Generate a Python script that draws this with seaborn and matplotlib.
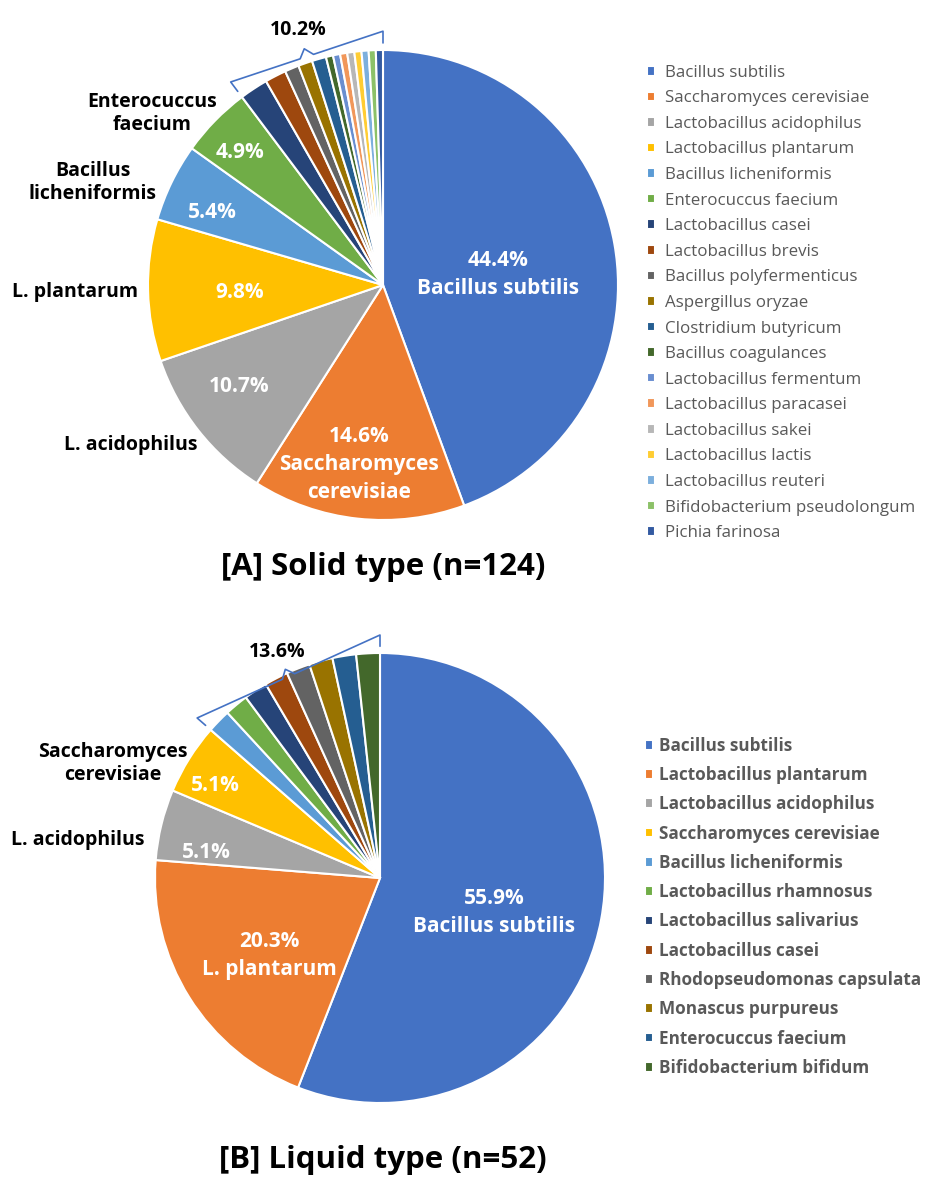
import numpy as np
import seaborn as sns
import matplotlib.pyplot as plt

sns.set_theme(style="white")
plt.rcParams['font.family'] = ['Open Sans', 'DejaVu Sans']
plt.rcParams['text.color'] = 'black'

# [A] Solid type
solid_species = ["Bacillus subtilis", "Saccharomyces cerevisiae", "Lactobacillus acidophilus",
                 "Lactobacillus plantarum", "Bacillus licheniformis", "Enterocuccus faecium",
                 "Lactobacillus casei", "Lactobacillus brevis", "Bacillus polyfermenticus",
                 "Aspergillus oryzae", "Clostridium butyricum", "Bacillus coagulances",
                 "Lactobacillus fermentum", "Lactobacillus paracasei", "Lactobacillus sakei",
                 "Lactobacillus lactis", "Lactobacillus reuteri", "Bifidobacterium pseudolongum",
                 "Pichia farinosa"]
solid_counts = [91, 30, 22, 20, 11, 10, 4, 3, 2, 2, 2, 1, 1, 1, 1, 1, 1, 1, 1]
solid_short = ["Bacillus subtilis", "Saccharomyces\ncerevisiae", "L. acidophilus",
               "L. plantarum", "Bacillus\nlicheniformis", "Enterocuccus\nfaecium"]

# [B] Liquid type
liquid_species = ["Bacillus subtilis", "Lactobacillus plantarum", "Lactobacillus acidophilus",
                  "Saccharomyces cerevisiae", "Bacillus licheniformis", "Lactobacillus rhamnosus",
                  "Lactobacillus salivarius", "Lactobacillus casei", "Rhodopseudomonas capsulata",
                  "Monascus purpureus", "Enterocuccus faecium", "Bifidobacterium bifidum"]
liquid_counts = [33, 12, 3, 3, 1, 1, 1, 1, 1, 1, 1, 1]
liquid_short = ["Bacillus subtilis", "L. plantarum", "L. acidophilus", "Saccharomyces\ncerevisiae"]

office = ["#4472C4", "#ED7D31", "#A5A5A5", "#FFC000", "#5B9BD5", "#70AD47",
          "#264478", "#9E480E", "#636363", "#997300", "#255E91", "#43682B",
          "#698ED0", "#F1975A", "#B7B7B7", "#FFCD33", "#7CAFDD", "#8CC168", "#335AA1"]


def polar(r, deg):
    a = np.deg2rad(deg)
    return r * np.cos(a), r * np.sin(a)


def draw_pie(ax, counts, short, inside, outside, n_named):
    wedges, _ = ax.pie(counts, colors=office[:len(counts)], startangle=90, counterclock=False,
                       radius=1, wedgeprops=dict(edgecolor="white", linewidth=1.5))
    ax.set_xlim(-1, 1)
    ax.set_ylim(-1, 1)
    ax.set_aspect("equal")
    ax.axis("off")
    total = sum(counts)
    mids = [(w.theta1 + w.theta2) / 2 for w in wedges]

    # labels inside the slices
    for i, (r, off, with_name) in inside.items():
        pct = f"{counts[i] / total * 100:.1f}%"
        txt = pct + ("\n" + short[i] if with_name else "")
        x, y = polar(r, mids[i] + off)
        ax.text(x, y, txt, color="white", fontsize=15, fontweight="bold",
                ha="center", va="center", linespacing=1.45)
    # names outside the slices
    for i, (r, off) in outside.items():
        x, y = polar(r, mids[i] + off)
        ax.text(x, y, short[i], color="black", fontsize=14, fontweight="bold",
                ha="center", va="center", linespacing=1.2)

    # bracket over the small slices
    a1 = wedges[n_named].theta2
    a2 = wedges[-1].theta1
    e1 = np.array(polar(1.08, a1))
    e2 = np.array(polar(1.08, a2))
    t1 = np.array(polar(1.03, a1))
    t2 = np.array(polar(1.03, a2))
    m = (e1 + e2) / 2
    n = m / np.linalg.norm(m)
    d = (e2 - e1) / np.linalg.norm(e2 - e1)
    pts = np.array([t1, e1, m - 0.03 * d, m + 0.035 * n, m + 0.03 * d, e2, t2])
    ax.plot(pts[:, 0], pts[:, 1], color="#4472C4", lw=1.2, clip_on=False)
    rest = sum(counts[n_named:]) / total * 100
    tx, ty = m + 0.12 * n
    ax.text(tx, ty, f"{rest:.1f}%", fontsize=14, fontweight="bold", color="black",
            ha="center", va="center")
    return wedges


W, H = 937, 1194
fig = plt.figure(figsize=(W / 100, H / 100), dpi=100)

ax_a = fig.add_axes([(383 - 235) / W, (H - 285 - 235) / H, 470 / W, 470 / H])
wa = draw_pie(ax_a, solid_counts, solid_short,
              inside={0: (0.49, -5, True), 1: (0.77, -1.5, True), 2: (0.75, -3, False),
                      3: (0.61, 1.5, False), 4: (0.79, 2.8, False), 5: (0.83, 1.4, False)},
              outside={2: (1.27, -5.8), 3: (1.31, 0), 4: (1.31, 6.4), 5: (1.225, 7.7)},
              n_named=6)

ax_b = fig.add_axes([(380 - 225) / W, (H - 878 - 225) / H, 450 / W, 450 / H])
wb = draw_pie(ax_b, liquid_counts, liquid_short,
              inside={0: (0.53, -6, True), 1: (0.6, 3, True), 2: (0.78, 5.5, False),
                      3: (0.84, 2.6, False)},
              outside={2: (1.355, 6.5), 3: (1.29, 8.9)},
              n_named=4)

fig.text(383 / W, 1 - 567 / H, "[A] Solid type (n=124)", fontsize=22.5, fontweight="bold",
         ha="center", va="center")
fig.text(383 / W, 1 - 1160 / H, "[B] Liquid type (n=52)", fontsize=22.5, fontweight="bold",
         ha="center", va="center")

leg_a = fig.legend(wa, solid_species, loc="upper left", bbox_to_anchor=(640 / W, 1 - 58 / H),
                   frameon=False, fontsize=12.2, handlelength=0.5, handleheight=0.5,
                   handletextpad=0.6, labelspacing=0.565, borderaxespad=0)
for t in leg_a.get_texts():
    t.set_color("#595959")

leg_b = fig.legend(wb, liquid_species, loc="upper left", bbox_to_anchor=(638 / W, 1 - 730 / H),
                   frameon=False, handlelength=0.5, handleheight=0.5,
                   handletextpad=0.35, labelspacing=0.66, borderaxespad=0,
                   prop=dict(weight="bold", size=12.3))
for t in leg_b.get_texts():
    t.set_color("#595959")

fig.savefig("out.png", dpi=100)
